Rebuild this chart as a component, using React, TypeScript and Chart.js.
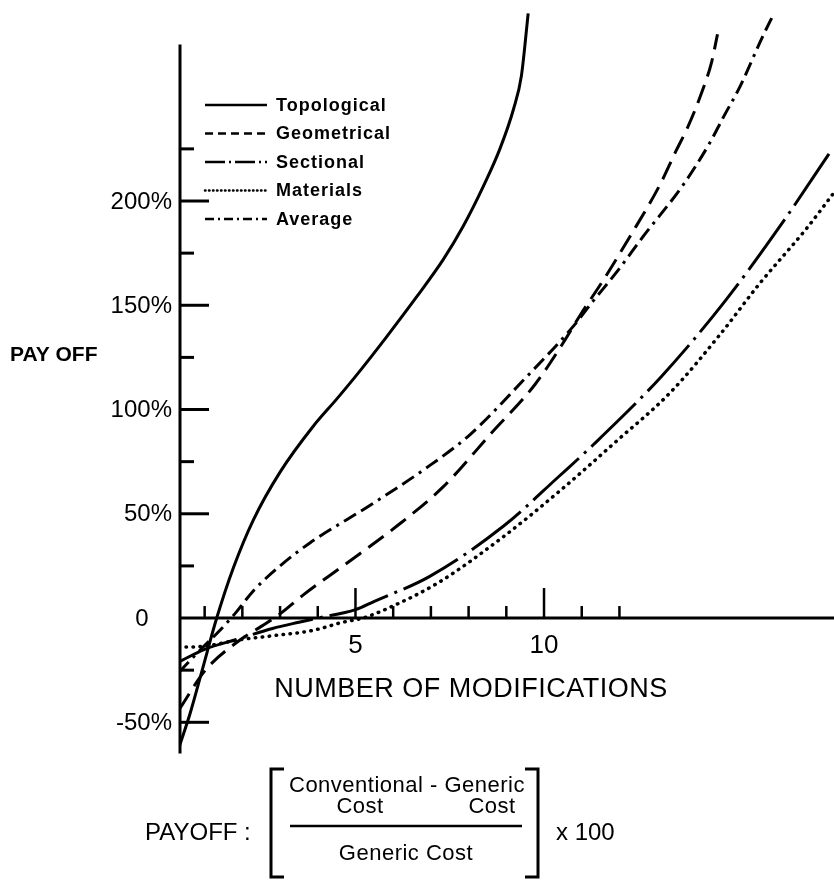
import React, { useEffect, useRef } from "react";
import { Chart, registerables } from "chart.js";

Chart.register(...registerables);

// ---------- data ----------
const seriesNames = ["Topological", "Geometrical", "Sectional", "Materials", "Average"];

const topologicalX = [0.32, 0.61, 0.95, 1.32, 1.76, 2.29, 3.0, 3.88, 4.5, 5.05, 5.83, 6.62, 7.33, 7.86, 8.39, 8.83, 9.19, 9.4, 9.58];
const topologicalY = [-62, -46, -24, 0, 24, 47, 70, 92, 105, 117, 135, 154, 172, 188, 207, 225, 244, 260, 290];

const geometricalX = [0.32, 1.02, 1.9, 2.5, 3.0, 3.61, 4.67, 6.09, 7.33, 8.57, 9.76, 10.51, 10.95, 11.57, 12.28, 13.08, 13.5, 13.8, 14.14, 14.45, 14.6];
const geometricalY = [-44, -25, -11, -4, 2, 11, 25, 44, 63, 88, 112, 132, 145, 162, 183, 208, 224, 235, 250, 267, 280];

const sectionalX = [0.32, 1.0, 1.9, 2.8, 3.5, 4.0, 5.0, 5.5, 6.97, 8.92, 10.4, 11.3, 13.12, 14.8, 16.3, 17.57];
const sectionalY = [-21, -15, -10, -5, -2, 0, 4, 8, 20, 44, 68, 83, 116, 152, 189, 223];

const materialsX = [0.32, 1.0, 1.9, 2.8, 3.85, 4.67, 5.2, 5.9, 7.2, 8.92, 10.42, 11.93, 13.34, 14.67, 15.7, 16.97, 17.69];
const materialsY = [-14, -13.5, -10.5, -8.5, -6, -2, 0, 5, 17, 39, 61, 85, 108, 136, 160, 187, 204];

const averageX = [0.32, 0.9, 1.4, 1.8, 2.29, 3.0, 3.79, 5.38, 6.8, 8.04, 9.45, 10.78, 11.3, 11.93, 12.63, 13.7, 14.4, 14.75, 15.2, 15.8, 16.1];
const averageY = [-26, -15, -6, 2, 13, 25, 36, 54, 71, 88, 114, 140, 152, 166, 183, 208, 228, 240, 255, 279, 290];

const yTickValues = [-50, 0, 50, 100, 150, 200];
const yTickLabels = ["-50%", "0", "50%", "100%", "150%", "200%"];
const yMinorTickValues = [-25, 25, 75, 125, 175, 225];
const xTickValues = [1, 2, 3, 4, 5, 6, 7, 8, 9, 10, 11, 12];
const xLabelValues = [5, 10];
const xTickLabels = ["5", "10"];

const xTitle = "NUMBER OF MODIFICATIONS";
const yTitle = "PAY OFF";
const formulaLabel = "PAYOFF :";
const formulaTop = "Conventional - Generic";
const formulaCost = "Cost";
const formulaBottom = "Generic Cost";
const formulaTimes = "x 100";

// ---------- layout constants ----------
const X_MIN = 0.32;
const X_MAX = 17.69;
const Y_MIN = -70;
const Y_MAX = 296.4;
const Y_AXIS_TOP = 275;
const Y_AXIS_BOTTOM = -65;
const FONT = '"Liberation Sans", Arial, Helvetica, sans-serif';

const dashStyles: number[][] = [[], [19, 9], [62, 7, 3, 7], [0.5, 6.5], [14, 6, 3, 6, 14, 6]];
const legendDash: number[][] = [[], [8, 5], [20, 4, 2, 4], [0.5, 3.5], [9, 4, 2, 4]];

const toPoints = (xs: number[], ys: number[]) => xs.map((x, i) => ({ x, y: ys[i] }));

const overlayPlugin = {
  id: "overlay",
  afterDatasetsDraw(chart: any) {
    const { ctx, chartArea, scales } = chart;
    const xs = scales.x;
    const ys = scales.y;
    ctx.save();
    ctx.strokeStyle = "#000";
    ctx.fillStyle = "#000";
    ctx.lineCap = "butt";
    ctx.setLineDash([]);

    const ax = chartArea.left + 1;
    const y0 = ys.getPixelForValue(0);

    // axes
    ctx.lineWidth = 3;
    ctx.beginPath();
    ctx.moveTo(ax, ys.getPixelForValue(Y_AXIS_TOP));
    ctx.lineTo(ax, ys.getPixelForValue(Y_AXIS_BOTTOM));
    ctx.stroke();
    ctx.beginPath();
    ctx.moveTo(ax, y0);
    ctx.lineTo(chartArea.right, y0);
    ctx.stroke();

    // y ticks (inward)
    yTickValues.forEach((v) => {
      if (v === 0) return;
      const py = ys.getPixelForValue(v);
      ctx.beginPath();
      ctx.moveTo(ax, py);
      ctx.lineTo(ax + 29, py);
      ctx.stroke();
    });
    yMinorTickValues.forEach((v) => {
      const py = ys.getPixelForValue(v);
      ctx.beginPath();
      ctx.moveTo(ax, py);
      ctx.lineTo(ax + 14, py);
      ctx.stroke();
    });

    // x ticks (upward)
    ctx.lineWidth = 2.5;
    xTickValues.forEach((v) => {
      const px = xs.getPixelForValue(v);
      const len = xLabelValues.includes(v) ? 30 : 12;
      ctx.beginPath();
      ctx.moveTo(px, y0);
      ctx.lineTo(px, y0 - len);
      ctx.stroke();
    });

    // y labels
    ctx.font = `24px ${FONT}`;
    ctx.textBaseline = "middle";
    ctx.textAlign = "right";
    const pctW = ctx.measureText("%").width;
    yTickValues.forEach((v, i) => {
      const lbl = yTickLabels[i];
      const py = ys.getPixelForValue(v);
      const right = lbl.includes("%") ? ax - 8 : ax - 8 - pctW - 2;
      ctx.fillText(lbl, right, py + 1);
    });

    // x labels
    ctx.textAlign = "center";
    ctx.font = `26px ${FONT}`;
    xLabelValues.forEach((v, i) => {
      ctx.fillText(xTickLabels[i], xs.getPixelForValue(v), y0 + 28);
    });

    // titles
    ctx.font = `27px ${FONT}`;
    ctx.textAlign = "center";
    (ctx as any).letterSpacing = "0.5px";
    ctx.fillText(xTitle, 471, y0 + 72);
    (ctx as any).letterSpacing = "0px";
    ctx.font = `bold 21px ${FONT}`;
    ctx.textAlign = "left";
    ctx.fillText(yTitle, 10, ys.getPixelForValue(126));

    // legend
    const legX0 = 205;
    const legX1 = 267;
    seriesNames.forEach((name, i) => {
      const ly = 105 + i * 28.5;
      ctx.lineWidth = 2.5;
      ctx.lineCap = i === 3 ? "round" : "butt";
      ctx.setLineDash(legendDash[i]);
      ctx.beginPath();
      ctx.moveTo(legX0, ly);
      ctx.lineTo(legX1, ly);
      ctx.stroke();
      ctx.setLineDash([]);
      ctx.lineCap = "butt";
      ctx.font = `bold 18px ${FONT}`;
      (ctx as any).letterSpacing = "1px";
      ctx.textAlign = "left";
      ctx.fillText(name, 276, ly + 1);
      (ctx as any).letterSpacing = "0px";
    });

    ctx.restore();
  },
};

const formulaPlugin = {
  id: "formula",
  afterDraw(chart: any) {
    const { ctx } = chart;
    ctx.save();
    ctx.fillStyle = "#000";
    ctx.strokeStyle = "#000";
    ctx.textBaseline = "middle";
    ctx.font = `24px ${FONT}`;
    ctx.textAlign = "left";
    ctx.fillText(formulaLabel, 145, 833);
    ctx.fillText(formulaTimes, 556, 833);
    ctx.font = `22px ${FONT}`;
    ctx.textAlign = "center";
    (ctx as any).letterSpacing = "0.5px";
    ctx.fillText(formulaTop, 407, 786);
    ctx.fillText(formulaCost, 360, 807);
    ctx.fillText(formulaCost, 492, 807);
    ctx.fillText(formulaBottom, 406, 854);
    (ctx as any).letterSpacing = "0px";
    ctx.lineWidth = 2.5;
    ctx.beginPath();
    ctx.moveTo(290, 826);
    ctx.lineTo(522, 826);
    ctx.stroke();
    ctx.lineWidth = 3;
    ctx.beginPath();
    ctx.moveTo(284, 769);
    ctx.lineTo(271, 769);
    ctx.lineTo(271, 877);
    ctx.lineTo(284, 877);
    ctx.stroke();
    ctx.beginPath();
    ctx.moveTo(525, 769);
    ctx.lineTo(538, 769);
    ctx.lineTo(538, 877);
    ctx.lineTo(525, 877);
    ctx.stroke();
    ctx.restore();
  },
};

export default function App() {
  const canvasRef = useRef<HTMLCanvasElement | null>(null);

  useEffect(() => {
    const canvas = canvasRef.current;
    if (!canvas) return;
    const seriesX = [topologicalX, geometricalX, sectionalX, materialsX, averageX];
    const seriesY = [topologicalY, geometricalY, sectionalY, materialsY, averageY];
    const datasets = seriesNames.map((name, i) => ({
      label: name,
      data: toPoints(seriesX[i], seriesY[i]),
      fill: false,
      pointRadius: 0,
      borderColor: "#000",
      backgroundColor: "#000",
      cubicInterpolationMode: "monotone",
      borderWidth: i === 3 ? 3.5 : 3,
      borderDash: dashStyles[i],
      borderCapStyle: i === 3 ? "round" : "butt",
    }));

    const chart = new Chart(canvas, {
      type: "line",
      data: { datasets },
      options: {
        animation: false,
        responsive: false,
        maintainAspectRatio: false,
        layout: { padding: { left: 179, right: 0, top: 0, bottom: 127 } },
        plugins: { legend: { display: false }, tooltip: { enabled: false }, title: { display: false } },
        scales: {
          x: { type: "linear", min: X_MIN, max: X_MAX, display: false },
          y: { type: "linear", min: Y_MIN, max: Y_MAX, display: false },
        },
      },
      plugins: [overlayPlugin, formulaPlugin],
    } as any);
    return () => chart.destroy();
  }, []);

  return (
    <div style={{ position: "absolute", left: 0, top: 0, width: 834, height: 891, background: "#fff" }}>
      <canvas ref={canvasRef} width={834} height={891} style={{ display: "block" }} />
    </div>
  );
}
